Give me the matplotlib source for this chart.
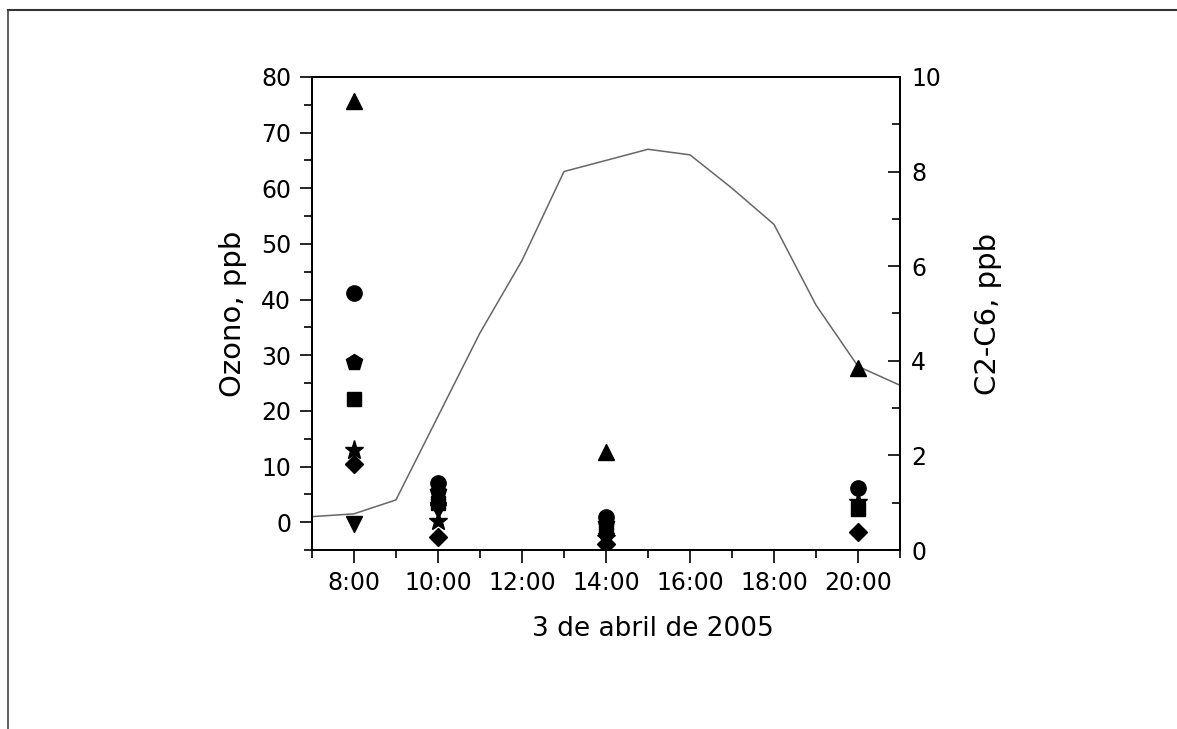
import numpy as np
import matplotlib
matplotlib.use('Agg')
import matplotlib.pyplot as plt
from matplotlib.lines import Line2D
from matplotlib.ticker import MultipleLocator, FuncFormatter
from matplotlib import font_manager

# ozono (eje izquierdo), linea horaria
horas_o3 = [7, 8, 9, 10, 11, 12, 13, 14, 15, 16, 17, 18, 19, 20, 21]
ozono = [1.0, 1.5, 4.0, 19.0, 34.0, 47.0, 63.0, 65.0, 67.0, 66.0, 60.0, 53.5, 39.0, 28.0, 24.6]

# C2-C6 (eje derecho), muestras puntuales
horas_hc = [8, 10, 14, 20]
hc_triangulo = [9.5, 1.12, 2.07, 3.85]
hc_circulo = [5.43, 1.41, 0.70, 1.31]
hc_pentagono = [3.97, 1.23, 0.55, np.nan]
hc_cuadrado = [3.19, 0.99, 0.45, 0.87]
hc_estrella = [2.11, 0.62, 0.25, 1.02]
hc_rombo = [1.82, 0.27, 0.12, 0.38]
hc_triang_inv = [0.55, 0.85, 0.20, np.nan]

plt.rcParams['font.family'] = ['DejaVu Sans']

# fuente estrecha para el titulo del eje x, si existe
nombres = set(f.name for f in font_manager.fontManager.ttflist)
fuente_x = 'DejaVu Sans'
for cand in ['Liberation Sans Narrow', 'DejaVu Sans Condensed']:
    if cand in nombres:
        fuente_x = cand
        break

fig = plt.figure(figsize=(11.77, 7.29), dpi=100)
ax = fig.add_axes([0.265, 0.2455, 0.4997, 0.649])
ax2 = ax.twinx()

ax.plot(horas_o3, ozono, color='#666666', lw=1.1, zorder=2)

series = [(hc_triangulo, '^', 12), (hc_circulo, 'o', 11), (hc_pentagono, 'p', 12),
          (hc_cuadrado, 's', 10), (hc_estrella, '*', 14), (hc_rombo, 'D', 9),
          (hc_triang_inv, 'v', 12)]
for vals, m, ms in series:
    ax2.plot(horas_hc, vals, ls='none', marker=m, ms=ms, color='black', zorder=3)

ax.set_xlim(7, 21)
ax.set_ylim(-5, 80)
ax2.set_ylim(0, 10)

ax.xaxis.set_minor_locator(MultipleLocator(1))
ax.set_xticks([8, 10, 12, 14, 16, 18, 20])
ax.xaxis.set_major_formatter(FuncFormatter(lambda v, p: '%d:00' % v))
ax.yaxis.set_minor_locator(MultipleLocator(5))
ax.set_yticks([0, 10, 20, 30, 40, 50, 60, 70, 80])
ax2.yaxis.set_major_locator(MultipleLocator(2))
ax2.yaxis.set_minor_locator(MultipleLocator(1))

ax.tick_params(axis='both', which='major', direction='out', length=9, width=1.2,
               labelsize=17, pad=6)
ax.tick_params(axis='both', which='minor', direction='out', length=6, width=1.2)
ax.tick_params(axis='x', which='both', top=False)
ax2.tick_params(axis='y', which='major', direction='in', length=9, width=1.2,
                labelsize=17, pad=8)
ax2.tick_params(axis='y', which='minor', direction='in', length=6, width=1.2)

for a in (ax, ax2):
    for s in a.spines.values():
        s.set_linewidth(1.3)

ax.set_ylabel('Ozono, ppb', fontsize=21, labelpad=10)
ax2.set_ylabel('C2-C6, ppb', fontsize=21, labelpad=24)
if fuente_x == 'DejaVu Sans':
    fig.text(653 / 1177, 1 - 629 / 729, '3 de abril de 2005', fontsize=19,
             ha='center', va='center')
else:
    fig.text(653 / 1177, 1 - 629 / 729, '3 de abril de 2005', fontsize=23,
             family=fuente_x, ha='center', va='center')

# marco del escaneo
fig.add_artist(Line2D([8 / 1177, 8 / 1177], [1 - 10 / 729, 0], color='#444444', lw=1.2))
fig.add_artist(Line2D([8 / 1177, 1], [1 - 10 / 729, 1 - 10 / 729], color='#333333', lw=1.5))

fig.savefig('out.png', dpi=100, facecolor='white')
